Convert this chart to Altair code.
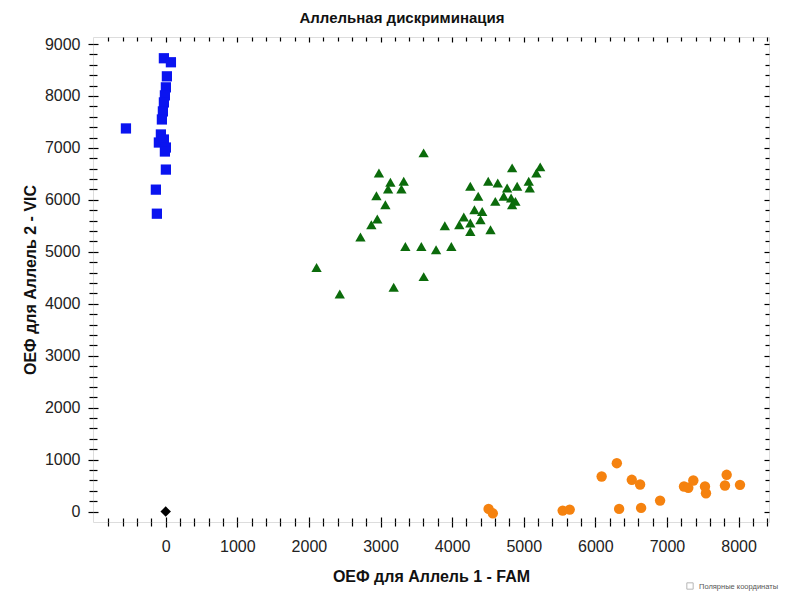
import altair as alt
import pandas as pd

# ---- data (FAM = Allele 1, VIC = Allele 2) ----
blue_x = [-25, 73, 17, 3, -11, -25, -39, -53, -67, -95, -25, 3, -11, -555, 3, -137, -123]
blue_y = [8726, 8649, 8378, 8166, 8012, 7876, 7703, 7548, 7259, 7104, 7162, 7008, 6931, 7375, 6583, 6197, 5734]

green_x = [3602, 2978, 3138, 3324, 3106, 3292, 2943, 3068, 2955, 2872, 2720, 2107, 2431, 3184,
           3603, 3347, 3570, 3776, 3989, 3898, 4100, 4254, 4364, 4312, 4163, 4254, 4254, 4420,
           4396, 4536, 4504, 4637, 4603, 4721, 4768, 4838, 4908, 4824, 4838, 4884, 5070, 5084,
           5177, 5230]
green_y = [6905, 6519, 6338, 6357, 6210, 6210, 6081, 5907, 5631, 5521, 5284, 4697, 4189, 4319,
           4523, 5102, 5102, 5039, 5102, 5502, 5521, 6261, 6068, 5811, 5670, 5554, 5392, 5778,
           5618, 5425, 6357, 6326, 5971, 6068, 6230, 6616, 6261, 6037, 5907, 5971, 6357, 6230,
           6519, 6635]

orange_x = [4509, 4568, 5544, 5642, 6088, 6300, 6332, 6509, 6625, 6639, 6904, 7238, 7298, 7368,
            7531, 7545, 7810, 7834, 8020]
orange_y = [52, -33, 19, 39, 676, 932, 52, 612, 521, 71, 212, 483, 458, 598, 483, 353, 502, 708, 515]

black_x = [0]
black_y = [0]

groups = ["Аллель 2", "Оба", "Аллель 1", "Нет амплификации"]
colors = ["#0a14f0", "#0b6b0b", "#f5820f", "#000000"]
shapes = ["square", "triangle-up", "circle", "diamond"]
sizes = [105, 110, 135, 55]

x_ticks = list(range(-800, 8401, 200))
y_ticks = list(range(0, 9001, 200))

title_text = "Аллельная дискриминация"
x_title = "ОЕФ для Аллель 1 - FAM"
y_title = "ОЕФ для Аллель 2 - VIC"
checkbox_text = "Полярные координаты"

rows = []
for g, xs_, ys_ in zip(groups, [blue_x, green_x, orange_x, black_x], [blue_y, green_y, orange_y, black_y]):
    for a, b in zip(xs_, ys_):
        rows.append({"fam": a, "vic": b, "grp": g})
df = pd.DataFrame(rows)

W, H = 676, 485
X_DOM = [-1015, 8425]
Y_DOM = [-200, 9135]

xs = alt.Scale(domain=X_DOM, nice=False, zero=False)
ys = alt.Scale(domain=Y_DOM, nice=False, zero=False)

major = "datum.value % 1000 === 0"
tick_sz = {"condition": {"test": major, "value": 5}, "value": 4}


def axis_main(orient, values, title):
    return alt.Axis(orient=orient, values=values, format="d",
                    labelExpr="datum.value % 1000 === 0 && datum.value >= 0 ? datum.label : ''",
                    labelOverlap=False, labelFont="Liberation Sans", labelFontSize=16,
                    labelColor="#222", labelPadding=11 if orient == "bottom" else 8,
                    tickSize=tick_sz, tickColor="#000", tickWidth=1.2,
                    domain=False, grid=False,
                    title=title, titleFont="Liberation Sans", titleFontSize=16,
                    titleFontWeight="bold", titleColor="#111",
                    titlePadding=14 if orient == "bottom" else 6)


def axis_ticks(orient, values, offset):
    return alt.Axis(orient=orient, values=values, labels=False, title=None,
                    tickSize=tick_sz, tickColor="#000", tickWidth=1.2,
                    domain=False, grid=False, offset=offset)


color_enc = alt.Color("grp:N", scale=alt.Scale(domain=groups, range=colors), legend=None)
shape_enc = alt.Shape("grp:N", scale=alt.Scale(domain=groups, range=shapes), legend=None)
size_enc = alt.Size("grp:N", scale=alt.Scale(domain=groups, range=sizes), legend=None)

points = alt.Chart(df).mark_point(filled=True, opacity=1, strokeWidth=0).encode(
    x=alt.X("fam:Q", scale=xs, axis=axis_main("bottom", x_ticks, x_title)),
    y=alt.Y("vic:Q", scale=ys, axis=axis_main("left", y_ticks, y_title)),
    color=color_enc, shape=shape_enc, size=size_enc,
)

inner1 = alt.Chart(df).mark_point(opacity=0).encode(
    x=alt.X("fam:Q", scale=xs, axis=axis_ticks("top", x_ticks, -H)),
    y=alt.Y("vic:Q", scale=ys, axis=axis_ticks("right", y_ticks, -W)),
)
inner2 = alt.Chart(df).mark_point(opacity=0).encode(
    x=alt.X("fam:Q", scale=xs, axis=axis_ticks("bottom", x_ticks, -H)),
    y=alt.Y("vic:Q", scale=ys, axis=axis_ticks("left", y_ticks, -W)),
)

cb_df = pd.DataFrame({"t": [checkbox_text]})
checkbox = alt.Chart(cb_df).mark_point(shape="square", filled=False, stroke="#999",
                                        strokeWidth=1, size=40).encode(
    x=alt.value(597), y=alt.value(549))
cb_text = alt.Chart(cb_df).mark_text(align="left", baseline="middle", fontSize=7.5,
                                     font="Liberation Sans", color="#555").encode(
    x=alt.value(606), y=alt.value(550), text="t:N")

chart = alt.layer(points, inner1, inner2, checkbox, cb_text).resolve_axis(
    x="independent", y="independent"
).properties(
    width=W, height=H,
    title=alt.TitleParams(title_text, font="Liberation Sans", fontSize=15, fontWeight="bold",
                          color="#111", anchor="middle", dx=-29, offset=10),
    autosize=alt.AutoSizeParams(type="none"),
    padding={"left": 85, "top": 29, "right": 10, "bottom": 75},
).configure_view(stroke="#000", strokeWidth=2).configure(background="white")

chart.save("out.html", embed_options={"renderer": "svg", "actions": False})
